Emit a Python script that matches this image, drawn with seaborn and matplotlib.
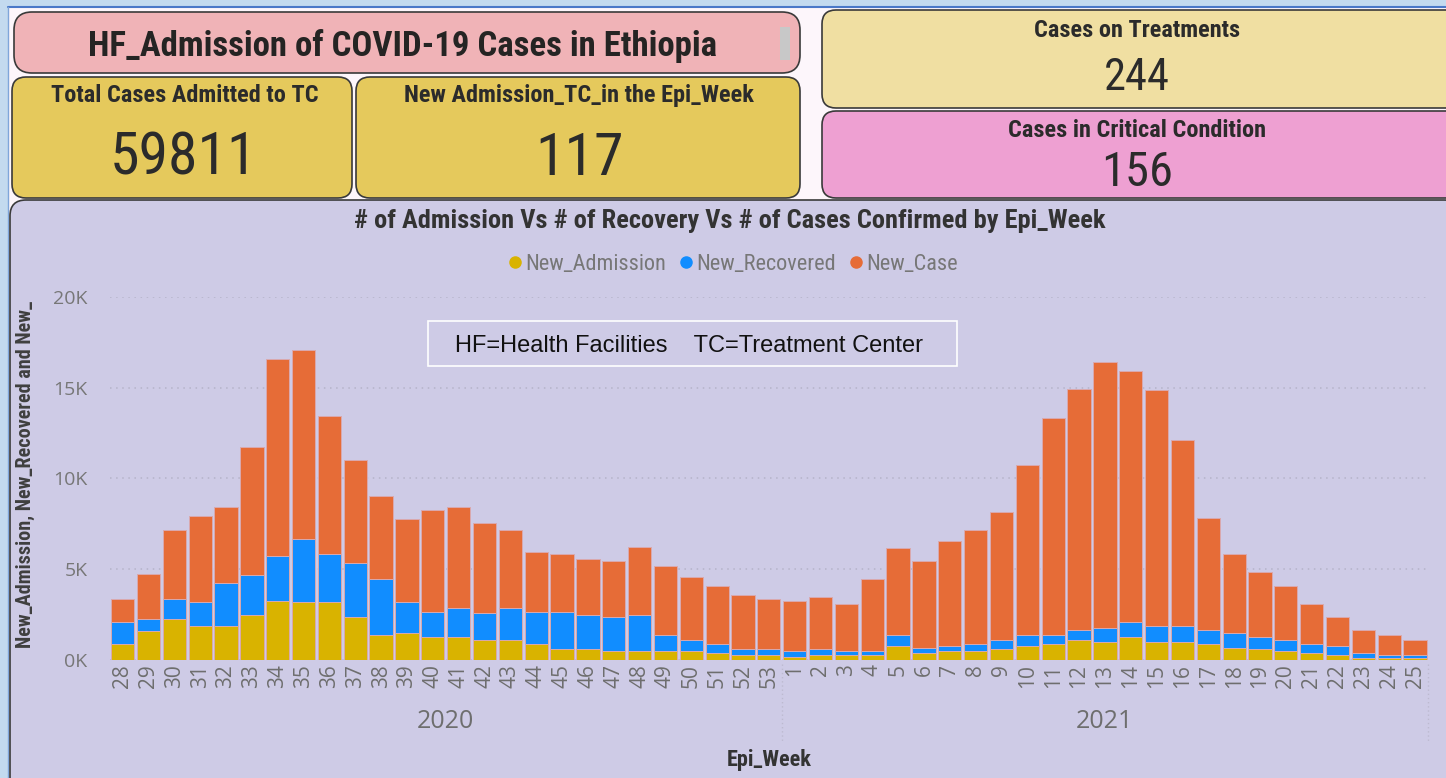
import numpy as np
import pandas as pd
import matplotlib
matplotlib.use("Agg")
import matplotlib.pyplot as plt
import seaborn as sns
from matplotlib import font_manager as fm
from matplotlib.patches import FancyBboxPatch, Rectangle
from matplotlib.lines import Line2D
from matplotlib.transforms import blended_transform_factory
from matplotlib.ticker import FixedLocator, FixedFormatter

# ---------------- data ----------------
weeks_2020 = list(range(28, 54))
weeks_2021 = list(range(1, 26))
years = ["2020"] * len(weeks_2020) + ["2021"] * len(weeks_2021)
week_labels = [str(w) for w in weeks_2020 + weeks_2021]

new_admission = [880, 1600, 2280, 1870, 1870, 2480, 3270, 3180, 3180, 2370, 1380, 1470, 1290,
                 1290, 1080, 1080, 880, 590, 590, 500, 500, 500, 500, 390, 290, 290,
                 180, 290, 290, 290, 790, 390, 500, 500, 590, 790, 880, 1080, 990, 1290,
                 990, 990, 880, 680, 590, 500, 390, 290, 90, 90, 90]
new_recovered = [1200, 660, 1080, 1310, 2390, 2180, 2480, 3470, 2680, 2970, 3080, 1710, 1370,
                 1580, 1490, 1790, 1780, 2070, 1870, 1870, 1960, 880, 580, 490, 300, 300,
                 320, 300, 210, 210, 590, 290, 290, 380, 490, 590, 500, 590, 790, 790,
                 880, 880, 790, 790, 700, 580, 490, 500, 300, 200, 200]
new_case = [1280, 2500, 3780, 4750, 4170, 7060, 10830, 10430, 7550, 5680, 4580, 4570, 5590,
            5560, 4960, 4270, 3290, 3180, 3090, 3080, 3780, 3780, 3470, 3180, 2970, 2770,
            2770, 2880, 2570, 3960, 4770, 4770, 5750, 6260, 7060, 9350, 11920, 13240, 14600, 13810,
            13020, 10230, 6170, 4370, 3560, 2980, 2190, 1580, 1280, 1090, 790]

series_names = ["New_Admission", "New_Recovered", "New_Case"]
series_colors = ["#D9B300", "#118DFF", "#E66C37"]
y_ticks = [0, 5000, 10000, 15000, 20000]
y_tick_labels = ["0K", "5K", "10K", "15K", "20K"]

kpi_titles = ["Total Cases Admitted to TC", "New Admission_TC_in the Epi_Week",
              "Cases on Treatments", "Cases in Critical Condition"]
kpi_values = ["59811", "117", "244", "156"]

# ---------------- fonts ----------------
sns.set_style("white")
avail = {f.name for f in fm.fontManager.ttflist}


def pick(*names):
    for n in names:
        if n in avail:
            return n
    return "DejaVu Sans"


NARROW = pick("Roboto Condensed", "Liberation Sans Narrow", "Open Sans Condensed", "DejaVu Sans")
UI = pick("Open Sans", "Noto Sans", "DejaVu Sans")
ARIAL = pick("Liberation Sans", "DejaVu Sans")
plt.rcParams["font.family"] = [UI, "DejaVu Sans"]
NF = [NARROW, "DejaVu Sans"]

# ---------------- figure ----------------
W, H = 1446, 778
fig = plt.figure(figsize=(W / 100, H / 100), dpi=100)
fig.patch.set_facecolor("#C3DAEF")

bg = fig.add_axes([0, 0, 1, 1], zorder=0)
bg.set_xlim(0, W)
bg.set_ylim(H, 0)
bg.axis("off")

# page background
bg.add_patch(Rectangle((8, 7), W, H, facecolor="#FDF6FB", edgecolor="none", zorder=0))
bg.plot([8, W], [7, 7], color="#4A78C8", lw=1.5, zorder=0.5)
bg.plot([8, 8], [7, H], color="#7FA6DA", lw=1.0, zorder=0.5)


def card(x0, y0, x1, y1, color, r=14):
    bg.add_patch(FancyBboxPatch((x0, y0), x1 - x0, y1 - y0,
                                boxstyle=f"round,pad=0,rounding_size={r}",
                                facecolor=color, edgecolor="#3A3A3A", lw=1.2, zorder=1))


card(14, 12, 800, 73, "#F0B3B7", r=18)
card(12, 77, 352, 198, "#E5C95C")
card(356, 77, 800, 198, "#E5C95C")
card(822, 10, 1460, 108, "#F0DFA2")
card(822, 111, 1460, 198, "#EEA0D2")
card(10, 200, 1460, 800, "#CECBE6", r=16)
bg.add_patch(Rectangle((780, 27), 10, 33, facecolor="#C8C8C8", edgecolor="none", zorder=2))

bg.text(403, 46, "HF_Admission of COVID-19 Cases in Ethiopia", ha="center", va="center",
        fontsize=25, fontweight="bold", color="#252423", family=NF)

lab_kw = dict(ha="center", va="center", color="#2B2B2B", family=NF)
bg.text(185, 95, kpi_titles[0], fontsize=17.5, fontweight="bold", **lab_kw)
bg.text(579, 95, kpi_titles[1], fontsize=17.5, fontweight="bold", **lab_kw)
bg.text(1137, 30, kpi_titles[2], fontsize=17.5, fontweight="bold", **lab_kw)
bg.text(1137, 130, kpi_titles[3], fontsize=17.5, fontweight="bold", **lab_kw)
bg.text(183, 158, kpi_values[0], fontsize=43, **lab_kw)
bg.text(580, 158, kpi_values[1], fontsize=43, **lab_kw)
bg.text(1137, 78, kpi_values[2], fontsize=32, **lab_kw)
bg.text(1137, 173, kpi_values[3], fontsize=35, **lab_kw)

bg.text(730, 221, "# of Admission Vs # of Recovery Vs # of Cases Confirmed by Epi_Week",
        ha="center", va="center", fontsize=19, fontweight="bold", color="#333333",
        family=NF)

# ---------------- chart ----------------
df = pd.DataFrame({"week": week_labels, "year": years,
                   "adm": new_admission, "rec": new_recovered, "case": new_case})
df["mid"] = df["adm"] + df["rec"]
df["total"] = df["mid"] + df["case"]

x0p, x1p, y0p, y1p = 109.7, 1428.0, 296.7, 660.0
ax = fig.add_axes([x0p / W, 1 - y1p / H, (x1p - x0p) / W, (y1p - y0p) / H], zorder=2)
ax.patch.set_alpha(0)

edge = "#D9A9AE"
for col, c in zip(["total", "mid", "adm"], series_colors[::-1]):
    sns.barplot(data=df, x="week", y=col, order=week_labels, color=c, width=0.9,
                edgecolor=edge, linewidth=0.7, saturation=1, ax=ax, zorder=3)

ax.set_xlim(-0.5, len(week_labels) - 0.5)
ax.set_ylim(0, 20000)
ax.yaxis.set_major_locator(FixedLocator(y_ticks))
ax.yaxis.set_major_formatter(FixedFormatter(y_tick_labels))
ax.yaxis.grid(True, linestyle=(0, (1, 3)), color="#B5B3C9", lw=1.1, zorder=0)
ax.set_axisbelow(True)
for s in ax.spines.values():
    s.set_visible(False)
ax.tick_params(axis="y", length=0, pad=16, labelsize=14, labelcolor="#777777")
ax.tick_params(axis="x", length=0, pad=3, labelsize=15, labelcolor="#6E6E6E", rotation=90)
ax.set_xlabel("")
ax.set_ylabel("New_Admission, New_Recovered and New_", fontsize=14.5, fontweight="bold",
              color="#3F3F3F", family=NF)
ax.yaxis.set_label_coords(-75 / (x1p - x0p), 0.51)

tr = blended_transform_factory(ax.transData, bg.transData)
n20 = len(weeks_2020)
ax.text((n20 - 1) / 2, 721, "2020", transform=tr, ha="center", va="center",
        fontsize=18, color="#6E6E6E")
ax.text(n20 + (len(weeks_2021) - 1) / 2, 721, "2021", transform=tr, ha="center",
        va="center", fontsize=18, color="#6E6E6E")
for xs in [n20 - 0.5, len(week_labels) - 0.5]:
    ax.add_line(Line2D([xs, xs], [664, 742], transform=tr, color="#BDBAD0",
                       lw=1, ls=(0, (1, 2)), clip_on=False))
ax.text((len(week_labels) - 1) / 2, 760, "Epi_Week", transform=tr, ha="center",
        va="center", fontsize=16, fontweight="bold", color="#333333", family=NF)

handles = [Line2D([], [], marker="o", ls="", color=c, markersize=8) for c in series_colors]
fig.legend(handles, series_names, loc="center", bbox_to_anchor=(732 / W, 1 - 264 / H),
           ncol=3, frameon=False, handletextpad=0.05, columnspacing=0.5, handlelength=0.8,
           labelcolor="#777777", prop=fm.FontProperties(family=NF, size=16))

# annotation text box
ann = fig.add_axes([0, 0, 1, 1], zorder=3)
ann.set_xlim(0, W)
ann.set_ylim(H, 0)
ann.axis("off")
ann.add_patch(Rectangle((428, 321), 529, 45, facecolor="#CECBE6", edgecolor="white", lw=1.2))
ann.text(455, 346, "HF=Health Facilities    TC=Treatment Center", ha="left", va="center",
         fontsize=17, color="#111111", family=[ARIAL, "DejaVu Sans"])

fig.savefig("out.png", dpi=100, facecolor=fig.get_facecolor())
